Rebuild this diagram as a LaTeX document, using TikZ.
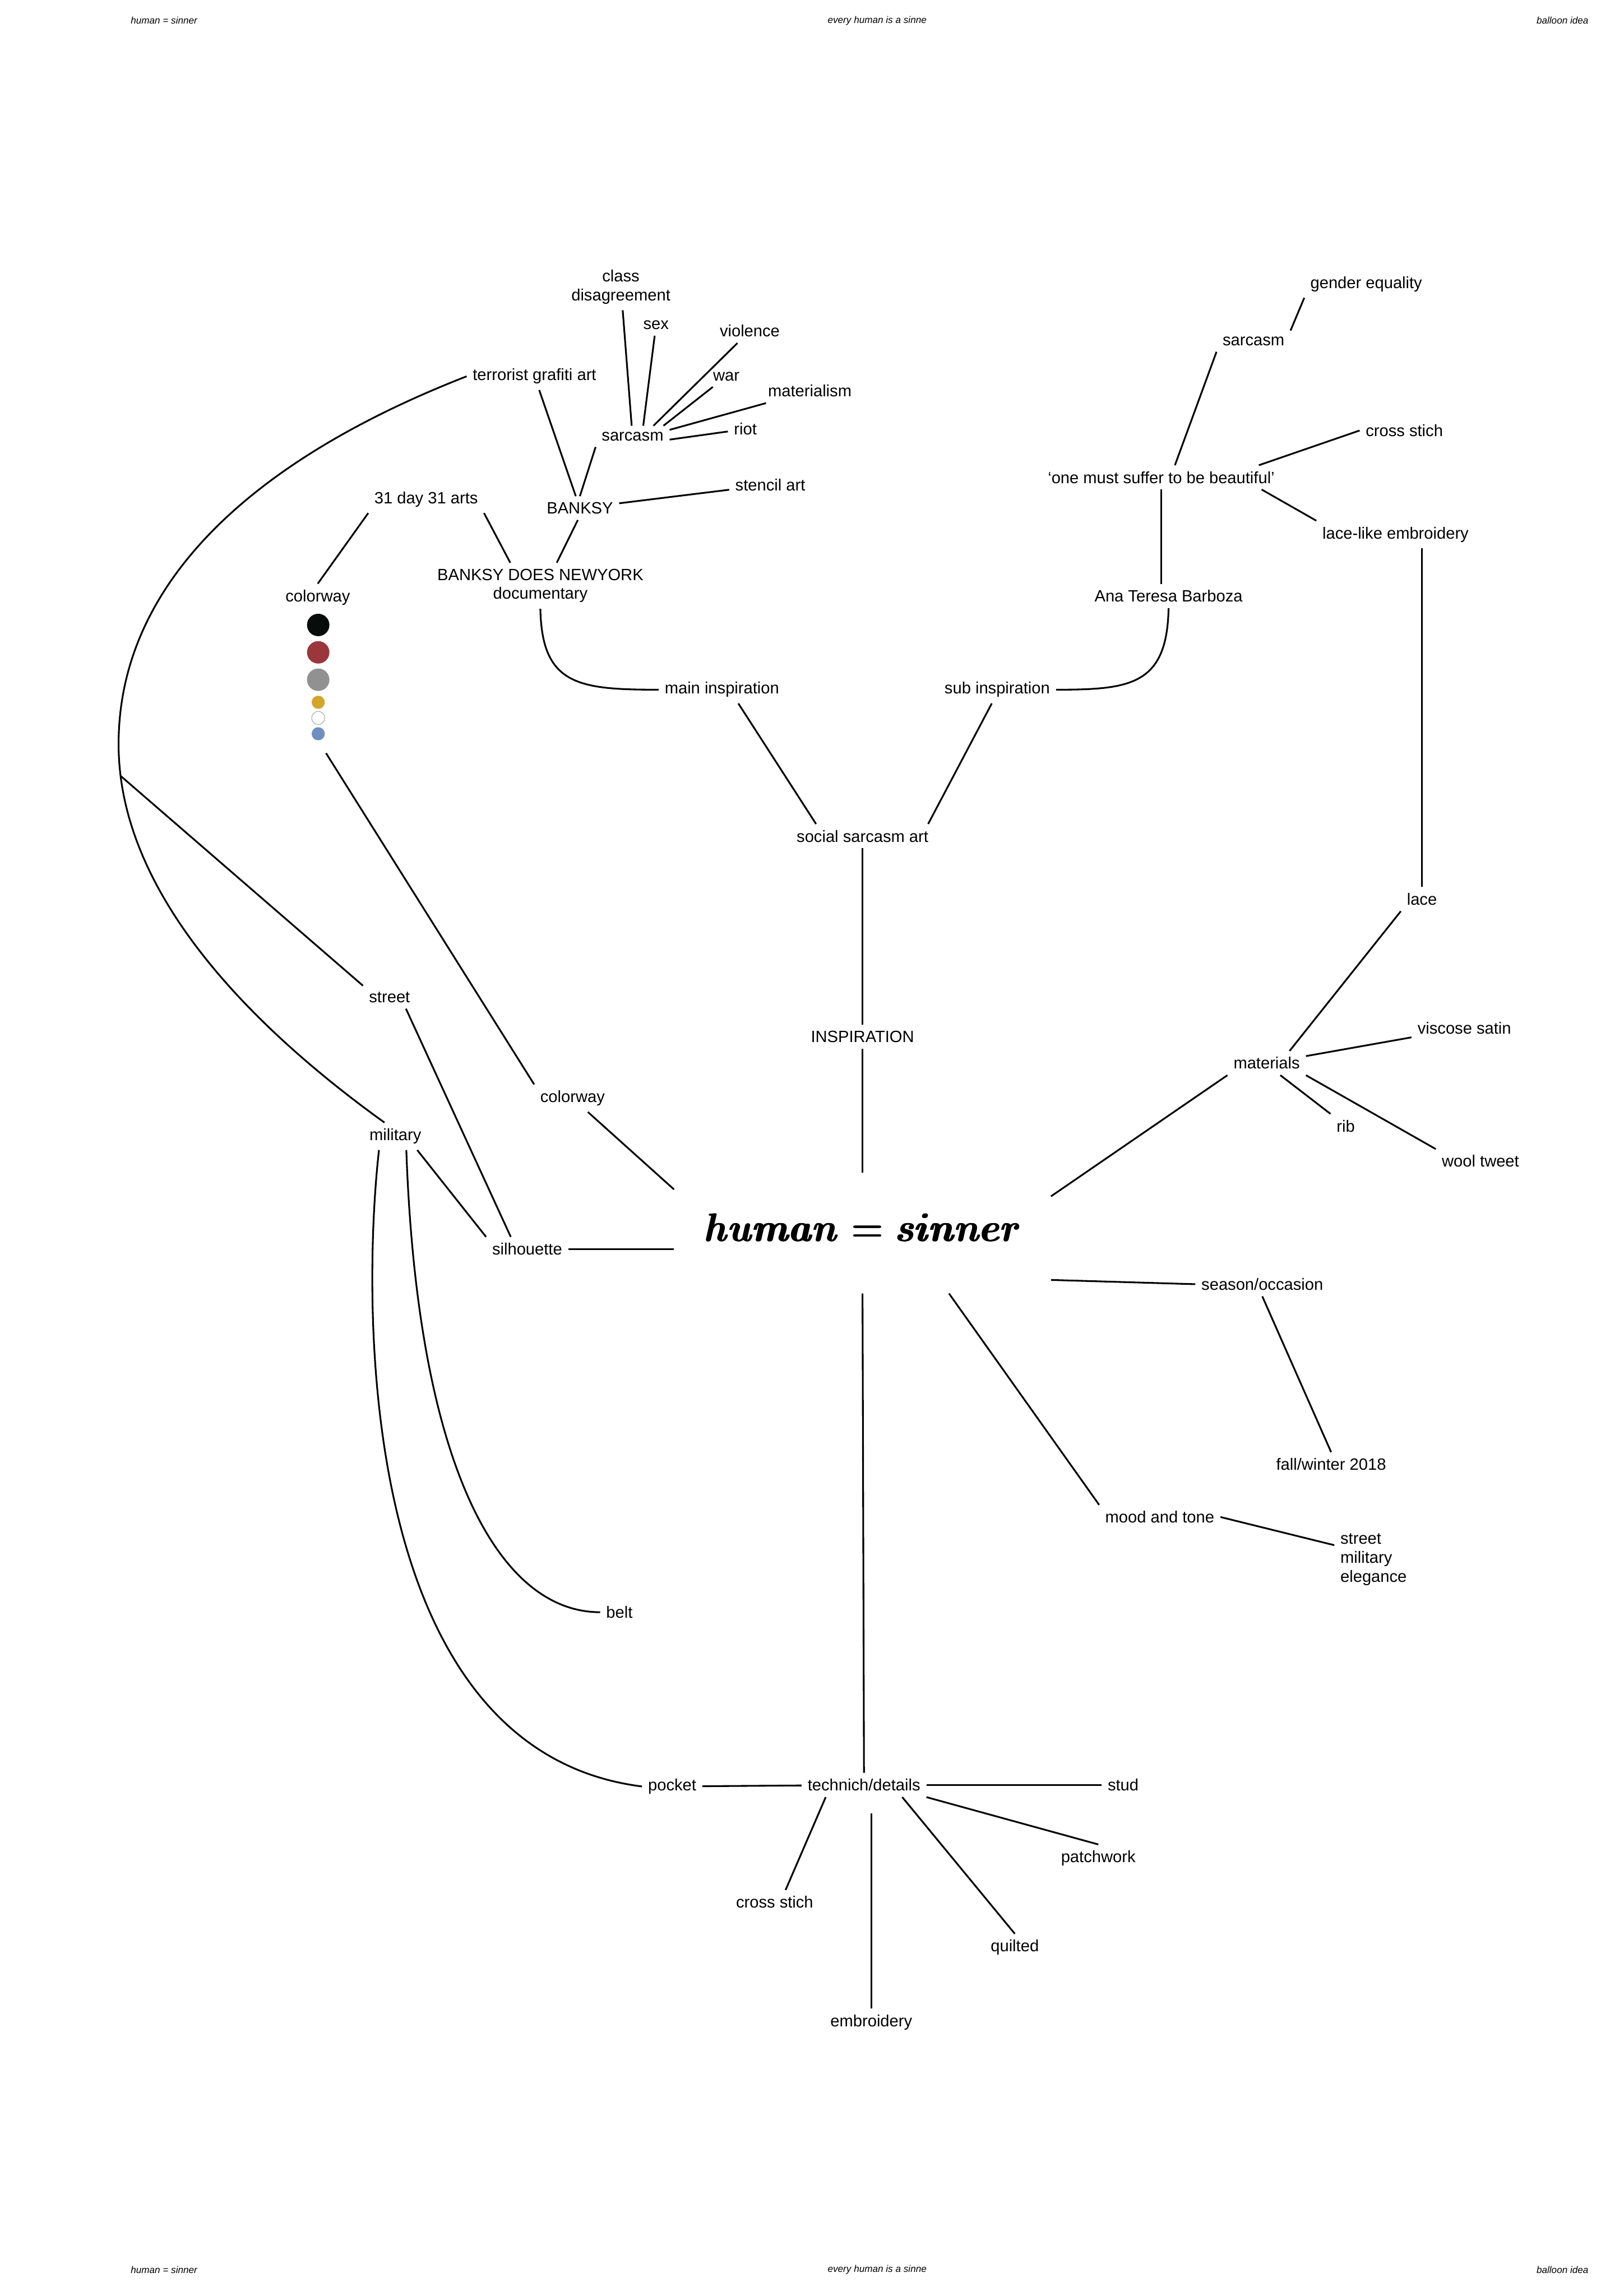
\documentclass[tikz,border=0pt]{standalone}
\usepackage{fontspec}
\setmainfont{Liberation Sans}
\usepackage{amsmath, amssymb}
\usepackage{xcolor}
\definecolor{dot-black}{HTML}{080C0B}
\definecolor{dot-red}{HTML}{9B363B}
\definecolor{dot-grey}{HTML}{919191}
\definecolor{dot-gold}{HTML}{D4A52B}
\definecolor{dot-blue}{HTML}{6E8FBF}
\newcommand{\boldital}{\fontencoding{OML}\fontfamily{cmm}\fontseries{b}\fontshape{it}\selectfont}
\newcommand{\boldeq}{{\fontencoding{OT1}\fontfamily{cmr}\fontseries{bx}\fontshape{n}\selectfont=}}
\newcommand{\heavy}[1]{\leavevmode\rlap{#1}\hspace{0.4pt}\rlap{#1}\hspace{0.4pt}#1}

\begin{document}
\begin{tikzpicture}[x=0.026781cm, y=-0.026781cm,
    every node/.style={font=\fontsize{8.5}{9.8}\selectfont, inner sep=3pt, align=center},
    link/.style={line width=0.9pt},
    tag/.style={font=\fontsize{5}{6}\selectfont\itshape},
    bigdot/.style={circle, inner sep=0pt, minimum size=0.41cm},
    smalldot/.style={circle, inner sep=0pt, minimum size=0.24cm}]
    \useasboundingbox (0,0) rectangle (1109,1568);

    % running heads
    \node[tag] (headl) at (112,14) {human = sinner};
    \node[tag] (headc) at (599,14) {every human is a sinne};
    \node[tag] (headr) at (1067,14) {balloon idea};
    \node[tag] (footl) at (112,1550) {human = sinner};
    \node[tag] (footc) at (599,1550) {every human is a sinne};
    \node[tag] (footr) at (1067,1550) {balloon idea};

    % main inspiration
    \node (classdis) at (424,196) {class\\disagreement};
    \node (sex) at (448,222) {sex};
    \node (violence) at (512,226) {violence};
    \node (war) at (496,257) {war};
    \node (materialism) at (553,267) {materialism};
    \node (riot) at (509,293) {riot};
    \node (sarcL) at (432,298) {sarcasm};
    \node (terror) at (365,257) {terrorist grafiti art};
    \node (stencil) at (526,331) {stencil art};
    \node (banksy) at (396,347) {BANKSY};
    \node (days) at (291,341) {31 day 31 arts};
    \node (bankdoc) at (369,400) {BANKSY DOES NEWYORK\\documentary};
    \node (colorA) at (217,408) {colorway};
    \node[bigdot, fill=dot-black] (dot1) at (217.3,426.8) {};
    \node[bigdot, fill=dot-red] (dot2) at (217.3,445.5) {};
    \node[bigdot, fill=dot-grey] (dot3) at (217.3,464.2) {};
    \node[smalldot, fill=dot-gold] (dot4) at (217.3,479.6) {};
    \node[smalldot, draw=gray, line width=0.2pt, fill=white] (dot5) at (217.3,490.3) {};
    \node[smalldot, fill=dot-blue] (dot6) at (217.3,501.1) {};
    \node (mainInsp) at (493,471) {main inspiration};

    % sub inspiration
    \node (gender) at (933,194) {gender equality};
    \node (sarcR) at (856,233) {sarcasm};
    \node (crossR) at (959,294) {cross stich};
    \node (suffer) at (793,326) {‘one must suffer to be beautiful’};
    \node (lacelike) at (953,365) {lace-like embroidery};
    \node (ana) at (798,407) {Ana Teresa Barboza};
    \node (subInsp) at (681,471) {sub inspiration};

    \node (social) at (589,571) {social sarcasm art};
    \node (inspir) at (589,708) {INSPIRATION};
    \node[minimum width=6.88cm, minimum height=2.2cm, inner sep=0pt] (human) at (589,842)
      {\raisebox{0.19cm}{\fontsize{22}{26}\selectfont\scalebox{0.9}[1]{\heavy{\boldital human\hspace{0.32em}\boldeq\hspace{0.32em}\boldital sinner}}}};

    % materials, season, mood
    \node (lace) at (971,614) {lace};
    \node (viscose) at (1000,702) {viscose satin};
    \node (materials) at (865,726) {materials};
    \node (rib) at (919,769) {rib};
    \node (wool) at (1011,793) {wool tweet};
    \node (season) at (862,877) {season/occasion};
    \node (fallw) at (909,1000) {fall/winter 2018};
    \node (mood) at (792,1036) {mood and tone};
    \node[align=left] (elegance) at (938,1065) {street\\military\\elegance};

    % silhouette, colorway, details
    \node (street) at (266,681) {street};
    \node (colorB) at (391,750) {colorway};
    \node (military) at (270,776) {military};
    \node (silhouette) at (360,853) {silhouette};
    \node (belt) at (423,1101) {belt};
    \node (pocket) at (459,1220) {pocket};
    \node (tech) at (590,1219) {technich/details};
    \node (stud) at (767,1219) {stud};
    \node (patchwork) at (750,1269) {patchwork};
    \node (crossB) at (529,1299) {cross stich};
    \node (quilted) at (693,1330) {quilted};
    \node (embroid) at (595,1381) {embroidery};
    \coordinate (fork) at (82.5,530);

    % links
    \draw[link] (classdis) -- (sarcL.95);
    \draw[link] (sex) -- (sarcL.45);
    \draw[link] (violence) -- (sarcL.27);
    \draw[link] (war) -- (sarcL.19);
    \draw[link] (materialism) -- (sarcL.10);
    \draw[link] (riot) -- (sarcL.-5);
    \draw[link] (sarcL.south west) -- (banksy.north);
    \draw[link] (terror) -- (banksy);
    \draw[link] (stencil) -- (banksy);
    \draw[link] (banksy.-100) -- ([xshift=0.3cm]bankdoc.north);
    \draw[link] (days.south east) -- ([xshift=-0.55cm]bankdoc.north);
    \draw[link] (days.south west) -- (colorA.north);
    \draw[link] (bankdoc.south) .. controls (370,468) and (395,471) .. (mainInsp.west);
    \draw[link] (ana.south) .. controls (797,468) and (772,471) .. (subInsp.east);
    \draw[link] ([xshift=0.3cm]mainInsp.south) -- ([xshift=-0.85cm]social.north);
    \draw[link] ([xshift=-0.1cm]subInsp.south) -- ([xshift=1.2cm]social.north);
    \draw[link] (social) -- (inspir);
    \draw[link] (inspir) -- (human.north);

    \draw[link] (gender.south west) -- (sarcR.north east);
    \draw[link] (sarcR.south west) -- ([xshift=0.25cm]suffer.north);
    \draw[link] (crossR.west) -- ([xshift=-0.4cm]suffer.north east);
    \draw[link] (lacelike.north west) -- ([xshift=-0.35cm]suffer.south east);
    \draw[link] (suffer.south) -- (suffer.south |- ana.north);
    \draw[link] (lace.north |- lacelike.south) -- (lace.north);

    \draw[link] (lace.south west) -- ([xshift=-0.3cm]materials.north east);
    \draw[link] (viscose) -- (materials);
    \draw[link] (rib.north west) -- ([xshift=0.25cm]materials.south);
    \draw[link] (wool.north west) -- (materials.south east);
    \draw[link] (materials.south west) -- (human.11);
    \draw[link] (human.-14) -- (season.west);
    \draw[link] (season.south) -- (fallw.north);
    \draw[link] (human.-35) -- (mood.north west);
    \draw[link] (mood.east) -- (elegance.160);

    \draw[link] (human.south) -- (tech.north);
    \draw[link] (tech) -- (pocket);
    \draw[link] (tech) -- (stud);
    \draw[link] (tech.south east) -- (patchwork.north);
    \draw[link] ([xshift=0.7cm]tech.south) -- (quilted.north);
    \draw[link, shorten <=0.3cm] (embroid.north |- tech.south) -- (embroid.north);
    \draw[link] ([xshift=-0.7cm]tech.south) -- ([xshift=0.2cm]crossB.north);

    \draw[link, shorten <=0.27cm] (dot6.south) -- (colorB.north west);
    \draw[link] (colorB) -- (human.167);
    \draw[link] (silhouette.east) -- (silhouette.east -| human.west);
    \draw[link] ([xshift=0.3cm]street.south) -- ([xshift=-0.3cm]silhouette.north);
    \draw[link] ([xshift=0.4cm]military.south) -- (silhouette.north west);
    \draw[link] (fork) -- (street.north west);
    \draw[link] (terror.west) .. controls (170,315) and (80,400) .. (81,510)
      .. controls (82,610) and (170,700) .. ([xshift=-0.2cm]military.north);
    \draw[link] ([xshift=0.2cm]military.south) .. controls (285,1000) and (340,1101) .. (belt.west);
    \draw[link] ([xshift=-0.3cm]military.south) .. controls (248,880) and (240,1195) .. (pocket.west);
\end{tikzpicture}
\end{document}
